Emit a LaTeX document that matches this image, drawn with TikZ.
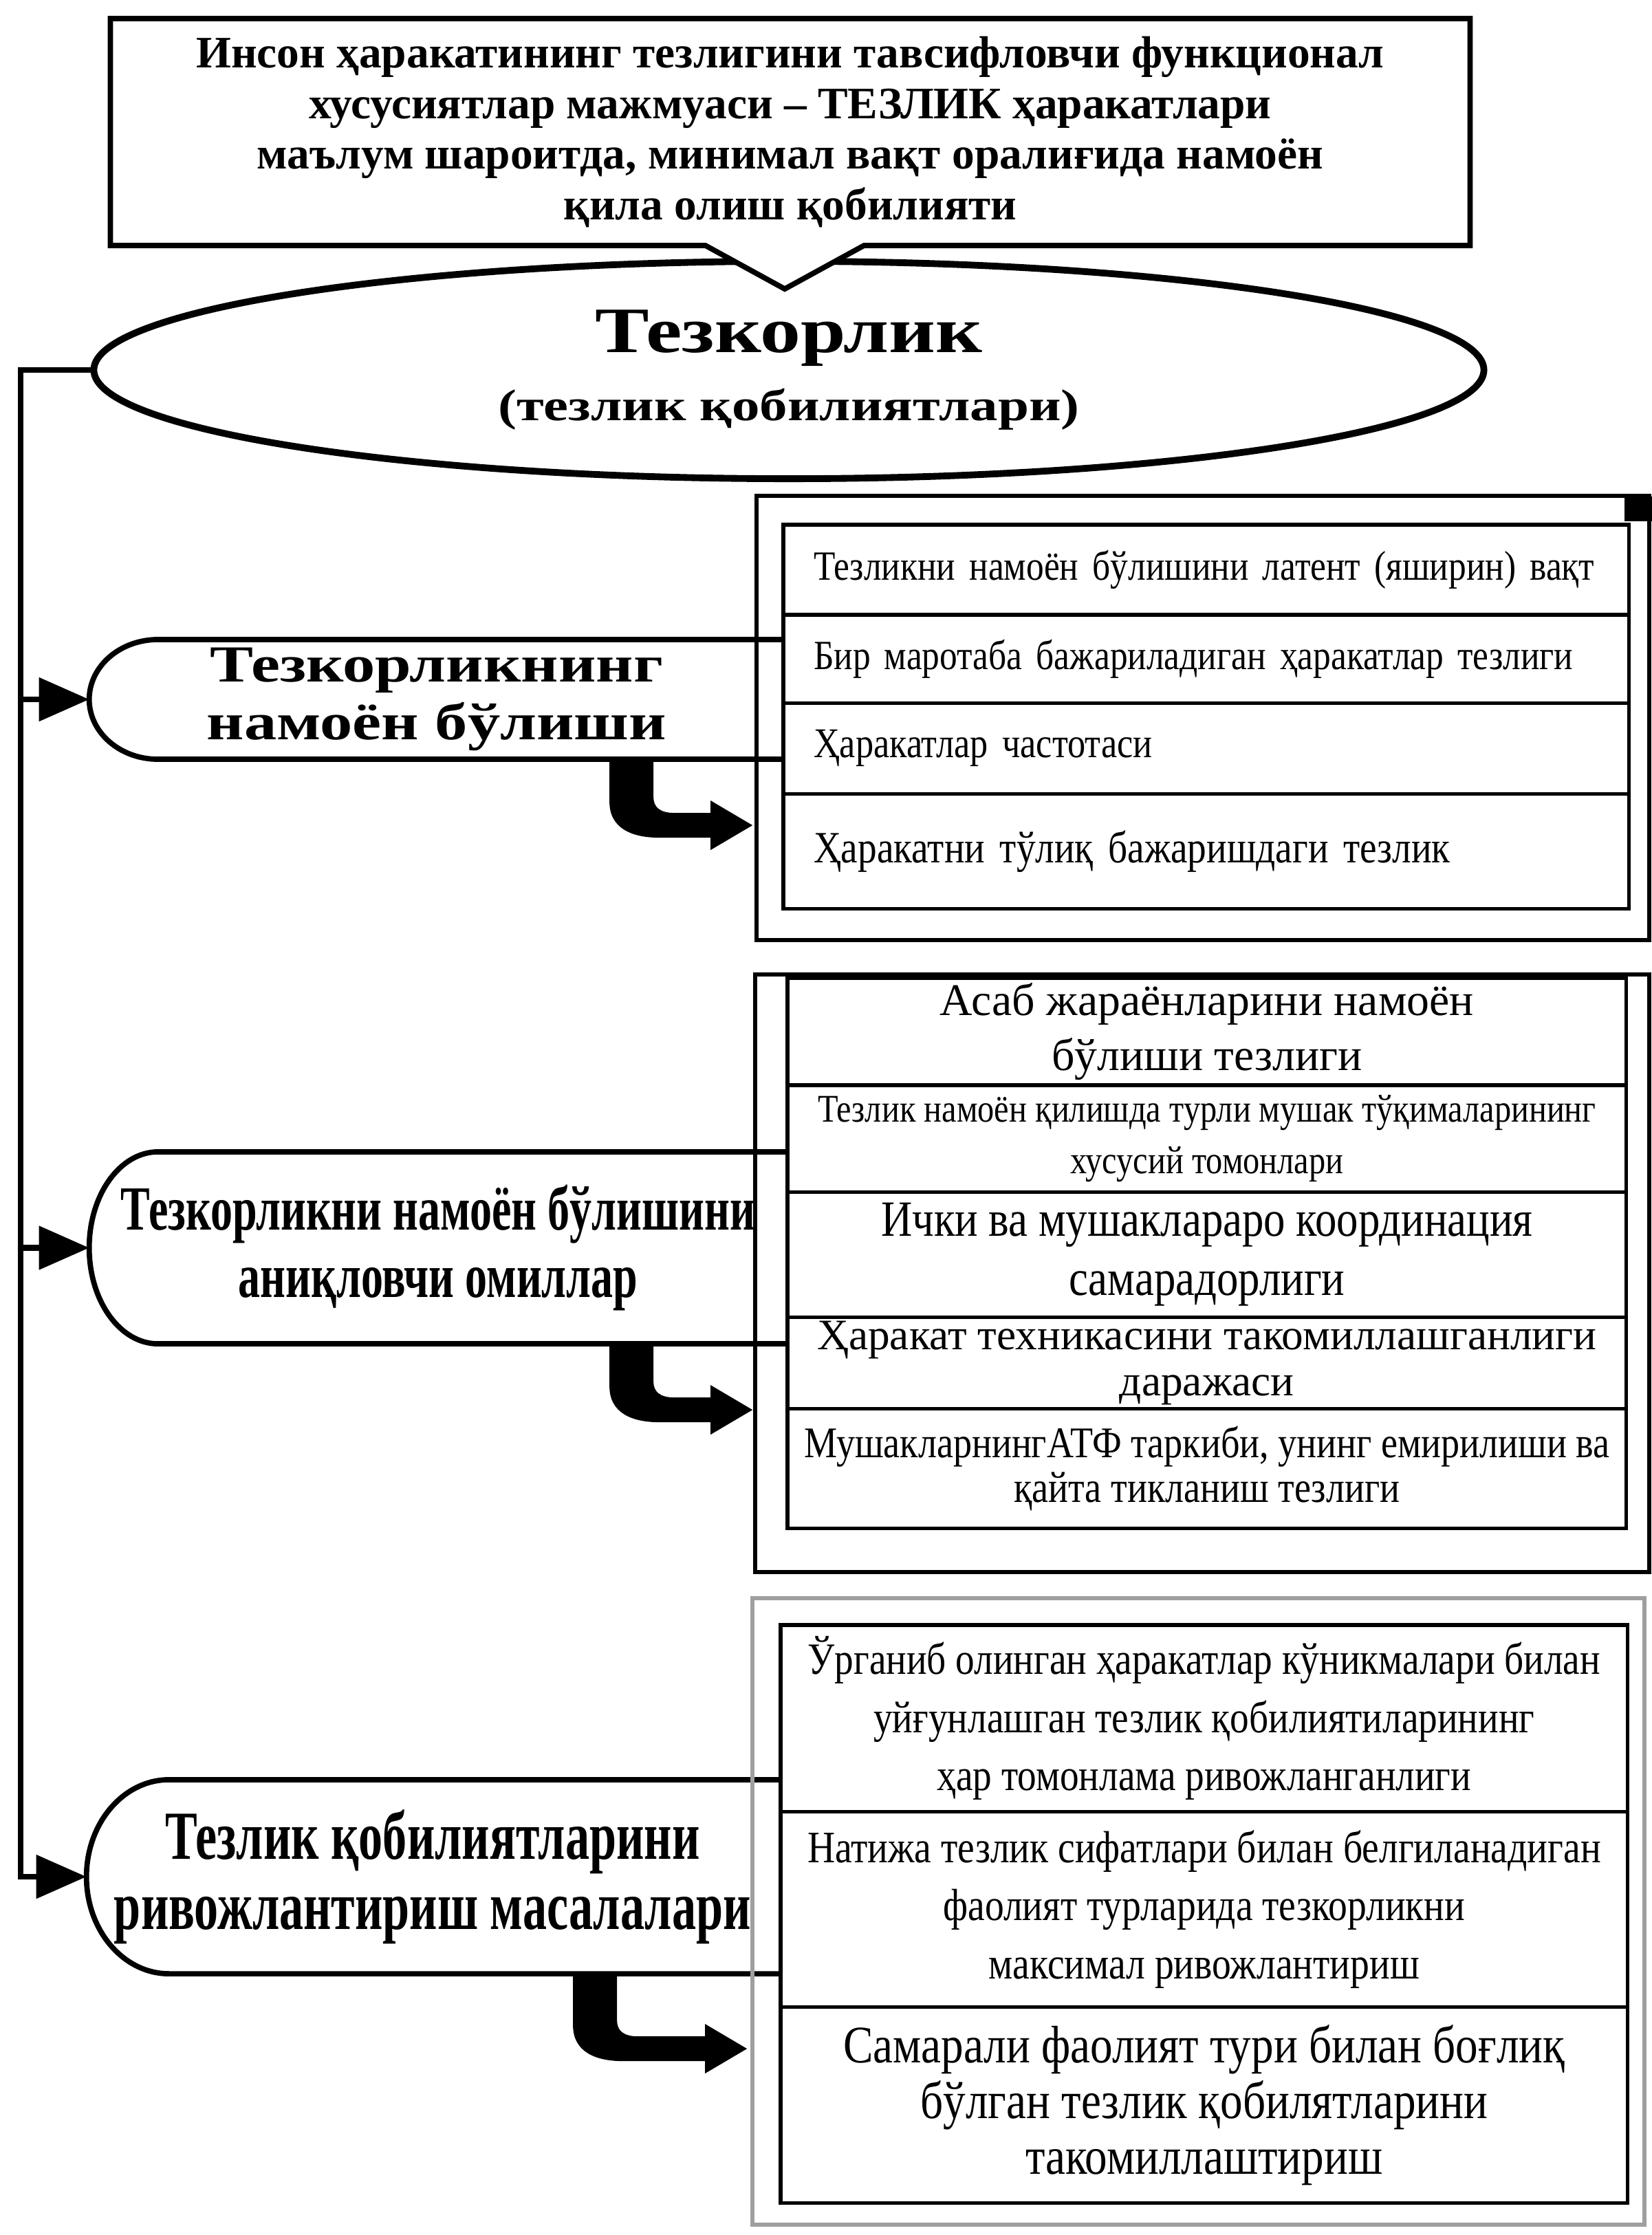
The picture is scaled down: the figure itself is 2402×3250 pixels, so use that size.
\documentclass[tikz,border=0pt]{standalone}
\usepackage{fontspec}
\setmainfont{Liberation Serif}
\newfontfamily\narrowfont[FakeStretch=0.85]{Liberation Serif}
\newfontfamily\widefont[FakeStretch=1.25]{Liberation Serif}
\newfontfamily\condfont[FakeStretch=0.7]{Liberation Serif}
\usetikzlibrary{arrows.meta,shapes.geometric,positioning}

\tikzset{
	defbox/.style={minimum width=19.76cm, minimum height=3.3cm, inner sep=0pt, outer sep=0pt, align=center, font=\bfseries\fontsize{18.6}{21}\selectfont},
	capnode/.style={inner sep=0pt, outer sep=0pt, align=center},
	capline/.style={line width=2.2pt},
	rowbox/.style={draw, line width=1.5pt, outer sep=0pt, inner sep=0pt, align=center, font=\narrowfont\fontsize{17.2}{24}\selectfont},
	leftrow/.style={text width=11.41cm, inner xsep=0.44cm, align=left},
	panelframe/.style={line width=1.6pt},
	feedarrow/.style={line width=2.4pt, -{Triangle[length=7.3mm, width=6.2mm]}},
	bentdx/.store in=\bentdx, bentdx=0,
	bentdy/.store in=\bentdy, bentdy=0,
	bentblock/.pic={\fill (-32,0) -- (-32,62+\bentdy) .. controls (-32,100+\bentdy) and (0,114+\bentdy) .. (40,114+\bentdy) -- (115+\bentdx,114+\bentdy) -- (115+\bentdx,132+\bentdy) -- (176+\bentdx,96+\bentdy) -- (115+\bentdx,60+\bentdy) -- (115+\bentdx,78+\bentdy) -- (62,78+\bentdy) .. controls (42,78+\bentdy) and (32,70+\bentdy) .. (32,55+\bentdy) -- (32,0) -- cycle;},
}

\begin{document}
\begin{tikzpicture}[x=0.01cm, y=-0.01cm]
	\useasboundingbox (0,0) rectangle (2402,3250);

	% heading
	\node[ellipse, draw, line width=2.8pt, minimum width=20.2cm, minimum height=3.16cm, inner sep=0pt, outer sep=0pt, align=center, font=\widefont\bfseries] (mainell) at (1147,538) {{\fontsize{26.8}{30}\selectfont Тезкорлик}\\[0.3cm]{\fontsize{18.4}{22}\selectfont (тезлик қобилиятлари)}};
	\node[defbox] (def) at (1149,192) {Инсон ҳаракатининг тезлигини тавсифловчи функционал\\хусусиятлар мажмуаси – ТЕЗЛИК ҳаракатлари\\маълум шароитда, минимал вақт оралиғида намоён\\қила олиш қобилияти};
	\fill[white] ([xshift=-1.23cm]def.south) -- ([xshift=-0.08cm, yshift=-0.63cm]def.south) -- ([xshift=1.07cm]def.south) -- cycle;
	\draw[line width=2.2pt] (def.south west) -- (def.north west) -- (def.north east) -- (def.south east) -- ([xshift=1.07cm]def.south) -- ([xshift=-0.08cm, yshift=-0.63cm]def.south) -- ([xshift=-1.23cm]def.south) -- cycle;

	% three groups
	\node[capnode, minimum width=10.1cm, minimum height=1.74cm, font=\widefont\bfseries\fontsize{21.5}{24}\selectfont] (n1) at (635,1017) {Тезкорликнинг\\намоён бўлиши};
	\node[capnode, minimum width=10.14cm, minimum height=2.79cm, font=\condfont\bfseries\fontsize{26}{27.6}\selectfont] (n2) at (637,1814.5) {Тезкорликни намоён бўлишини\\аниқловчи омиллар};
	\node[capnode, minimum width=10.06cm, minimum height=2.82cm, font=\condfont\bfseries\fontsize{28.5}{29}\selectfont] (n3) at (629,2729) {Тезлик қобилиятларини\\ривожлантириш масалалари};
	\draw[capline] (n1.north east) -- ([xshift=1cm]n1.north west) arc[start angle=90, end angle=270, x radius=1cm, y radius=0.87cm] -- (n1.south east);
	\draw[capline] (n2.north east) -- ([xshift=1cm]n2.north west) arc[start angle=90, end angle=270, x radius=1cm, y radius=1.395cm] -- (n2.south east);
	\draw[capline] (n3.north east) -- ([xshift=1.2cm]n3.north west) arc[start angle=90, end angle=270, x radius=1.2cm, y radius=1.41cm] -- (n3.south east);

	\coordinate (bus) at (30,538);
	\draw[feedarrow] (mainell.west) -- (bus) -- (bus |- n3.west) -- (n3.west);
	\draw[feedarrow] (bus |- n1.west) -- (n1.west);
	\draw[feedarrow] (bus |- n2.west) -- (n2.west);

	% panel 1
	\draw[panelframe] (1100,721) rectangle (2398,1367);
	\fill (2362,722) rectangle (2402,758);
	\node[rowbox, leftrow, minimum height=1.31cm, anchor=north west] (a1) at (1139,763) {Тезликни намоён бўлишини латент (яширин) вақт};
	\node[rowbox, leftrow, minimum height=1.28cm, below=0pt of a1] (a2) {Бир маротаба бажариладиган ҳаракатлар тезлиги};
	\node[rowbox, leftrow, minimum height=1.32cm, below=0pt of a2, font=\narrowfont\fontsize{17.5}{24}\selectfont] (a3) {Ҳаракатлар частотаси};
	\node[rowbox, leftrow, minimum height=1.67cm, below=0pt of a3, font=\narrowfont\fontsize{18.5}{24}\selectfont] (a4) {Ҳаракатни тўлиқ бажаришдаги тезлик};

	% panel 2
	\draw[panelframe] (1098,1417) rectangle (2398,2286);
	\node[rowbox, minimum width=12.19cm, minimum height=1.56cm, anchor=north west, font=\rmfamily\fontsize{18.7}{23}\selectfont] (b1) at (1145,1422) {Асаб жараёнларини намоён\\бўлиши тезлиги};
	\node[rowbox, minimum width=12.19cm, minimum height=1.55cm, below=0pt of b1, font=\narrowfont\fontsize{16.2}{21.3}\selectfont] (b2) {Тезлик намоён қилишда турли мушак тўқималарининг\\хусусий томонлари};
	\node[rowbox, minimum width=12.19cm, minimum height=1.82cm, below=0pt of b2, font=\narrowfont\fontsize{21}{24.5}\selectfont] (b3) {Ички ва мушаклараро координация\\самарадорлиги};
	\node[rowbox, minimum width=12.19cm, minimum height=1.33cm, below=0pt of b3, font=\rmfamily\fontsize{18}{19}\selectfont] (b4) {Ҳаракат техникасини такомиллашганлиги\\даражаси};
	\node[rowbox, minimum width=12.19cm, minimum height=1.74cm, below=0pt of b4, font=\narrowfont\fontsize{18.1}{18.5}\selectfont] (b5) {МушакларнингАТФ таркиби, унинг емирилиши ва\\қайта тикланиш тезлиги};

	% panel 3
	\draw[panelframe, gray!75] (1094,2324) rectangle (2391,3235);
	\node[rowbox, minimum width=12.31cm, minimum height=2.71cm, anchor=north west, font=\narrowfont\fontsize{18.5}{24}\selectfont] (c1) at (1135,2363) {Ўрганиб олинган ҳаракатлар кўникмалари билан\\уйғунлашган тезлик қобилиятиларининг\\ҳар томонлама ривожланганлиги};
	\node[rowbox, minimum width=12.31cm, minimum height=2.84cm, below=0pt of c1, font=\narrowfont\fontsize{18.6}{24}\selectfont] (c2) {Натижа тезлик сифатлари билан белгиланадиган\\фаолият турларида тезкорликни\\максимал ривожлантириш};
	\node[rowbox, minimum width=12.31cm, minimum height=2.85cm, below=0pt of c2, font=\narrowfont\fontsize{21.8}{23}\selectfont] (c3) {Самарали фаолият тури билан боғлиқ\\бўлган тезлик қобилятларини\\такомиллаштириш};

	% links into the panels
	\pic at ([xshift=2.83cm]n1.south) {bentblock};
	\pic at ([xshift=2.81cm]n2.south) {bentblock};
	\pic[bentdx=45, bentdy=13] at ([xshift=2.36cm]n3.south) {bentblock};
\end{tikzpicture}
\end{document}
